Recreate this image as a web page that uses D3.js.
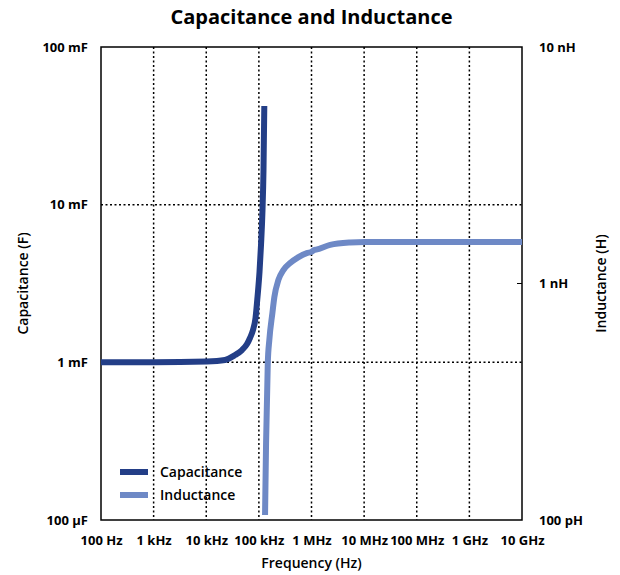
<!DOCTYPE html>
<html>
<head>
<meta charset="utf-8">
<script src="https://cdn.jsdelivr.net/npm/d3@7"></script>
<style>
  html, body { margin: 0; padding: 0; background: #fff; }
  svg text { fill: #000; }
</style>
</head>
<body>
<svg id="chart" width="620" height="575"></svg>
<script>
// ---- data ----
const freqTicks = [1e2, 1e3, 1e4, 1e5, 1e6, 1e7, 1e8, 1e9, 1e10];
const freqTickLabels = ["100 Hz", "1 kHz", "10 kHz", "100 kHz", "1 MHz", "10 MHz", "100 MHz", "1 GHz", "10 GHz"];
const capTicks = [1e-4, 1e-3, 1e-2, 1e-1];
const capTickLabels = ["100 µF", "1 mF", "10 mF", "100 mF"];
const indTicks = [1e-10, 1e-9, 1e-8];
const indTickLabels = ["100 pH", "1 nH", "10 nH"];

const capFreq  = [100, 1000, 10300, 22700, 35200, 47800, 59500, 67800, 77300, 86300, 94200, 102800, 109800, 117200, 122400, 126800];
const capValue = [1.0e-3, 1.0e-3, 1.012e-3, 1.035e-3, 1.112e-3, 1.197e-3, 1.307e-3, 1.427e-3, 1.604e-3, 1.91e-3, 2.6e-3, 3.74e-3, 5.55e-3, 9.25e-3, 16.6e-3, 42.2e-3];

const indFreq  = [131000, 137000, 147700, 158000, 180600, 197000, 235000, 292000, 392000, 556000, 814000, 1.0e6, 1.12e6, 1.22e6, 2.26e6, 5.42e6, 1.04e7, 1e8, 1e9, 1e10];
const indValue = [1.05e-10, 2.12e-10, 4.62e-10, 5.77e-10, 7.5e-10, 8.77e-10, 1.035e-9, 1.14e-9, 1.22e-9, 1.29e-9, 1.345e-9, 1.36e-9, 1.385e-9, 1.39e-9, 1.456e-9, 1.49e-9, 1.497e-9, 1.497e-9, 1.497e-9, 1.497e-9];

const seriesNames = ["Capacitance", "Inductance"];
const seriesColors = ["#233e87", "#6e89c6"];

// ---- layout ----
const L = 101, R = 522, T = 47, B = 520;
const svg = d3.select("#chart");
const font = "'Open Sans', sans-serif";

const x = d3.scaleLog().domain([1e2, 1e10]).range([L, R]);
const yC = d3.scaleLog().domain([1e-4, 1e-1]).range([B, T]);
const yL = d3.scaleLog().domain([1e-10, 1e-8]).range([B, T]);

// grid
const grid = svg.append("g");
grid.selectAll("line.v").data(freqTicks.slice(1, -1)).join("line")
  .attr("x1", d => x(d)).attr("x2", d => x(d)).attr("y1", T).attr("y2", B)
  .attr("stroke", "#000").attr("stroke-width", 1.5).attr("stroke-dasharray", "2,2.5");
grid.selectAll("line.h").data(capTicks.slice(1, -1)).join("line")
  .attr("x1", L).attr("x2", R).attr("y1", d => yC(d)).attr("y2", d => yC(d))
  .attr("stroke", "#000").attr("stroke-width", 1.5).attr("stroke-dasharray", "2,2.5");

// right axis inner tick
svg.selectAll("line.rt").data(indTicks.slice(1, -1)).join("line")
  .attr("x1", R - 5).attr("x2", R).attr("y1", d => yL(d)).attr("y2", d => yL(d))
  .attr("stroke", "#000").attr("stroke-width", 1);

// frame
svg.append("rect").attr("x", L).attr("y", T).attr("width", R - L).attr("height", B - T)
  .attr("fill", "none").attr("stroke", "#000").attr("stroke-width", 1.5);

// axes (labels only)
const axB = d3.axisBottom(x).tickValues(freqTicks).tickFormat((d, i) => freqTickLabels[i]).tickSize(0).tickPadding(16);
const gB = svg.append("g").attr("transform", `translate(0,${B})`).call(axB);
const axLft = d3.axisLeft(yC).tickValues(capTicks).tickFormat((d, i) => capTickLabels[i]).tickSize(0).tickPadding(13);
const gLf = svg.append("g").attr("transform", `translate(${L},0)`).call(axLft);
const axRt = d3.axisRight(yL).tickValues(indTicks).tickFormat((d, i) => indTickLabels[i]).tickSize(0).tickPadding(17);
const gRt = svg.append("g").attr("transform", `translate(${R},0)`).call(axRt);
[gB, gLf, gRt].forEach(g => {
  g.select(".domain").remove();
  g.selectAll("text").attr("font-family", font).attr("font-size", 13).attr("font-weight", 700).attr("fill", "#000");
});

// lines
const lineC = d3.line().x(d => x(d[0])).y(d => yC(d[1])).curve(d3.curveMonotoneX);
const lineL = d3.line().x(d => x(d[0])).y(d => yL(d[1])).curve(d3.curveMonotoneX);
const capData = capFreq.map((f, i) => [f, capValue[i]]);
const indData = indFreq.map((f, i) => [f, indValue[i]]);

svg.append("path").attr("d", lineL(indData)).attr("fill", "none")
  .attr("stroke", seriesColors[1]).attr("stroke-width", 6);
svg.append("path").attr("d", lineC(capData)).attr("fill", "none")
  .attr("stroke", seriesColors[0]).attr("stroke-width", 6);

// legend
const leg = svg.append("g");
seriesNames.forEach((name, i) => {
  const yy = 472 + i * 23;
  leg.append("line").attr("x1", 120).attr("x2", 148).attr("y1", yy).attr("y2", yy)
    .attr("stroke", seriesColors[i]).attr("stroke-width", 6);
  leg.append("text").attr("x", 160).attr("y", yy).attr("dy", "0.35em")
    .attr("font-family", font).attr("font-size", 14).attr("font-weight", 600).text(name);
});

// titles
svg.append("text").attr("x", (L + R) / 2).attr("y", 24).attr("text-anchor", "middle")
  .attr("font-family", font).attr("font-size", 20).attr("font-weight", 700).text("Capacitance and Inductance");
svg.append("text").attr("x", (L + R) / 2).attr("y", 563).attr("dy", "0.35em").attr("text-anchor", "middle")
  .attr("font-family", font).attr("font-size", 14).attr("font-weight", 600).text("Frequency (Hz)");
svg.append("text").attr("transform", `translate(23,${(T + B) / 2}) rotate(-90)`).attr("dy", "0.35em")
  .attr("text-anchor", "middle").attr("font-family", font).attr("font-size", 14).attr("font-weight", 600).text("Capacitance (F)");
svg.append("text").attr("transform", `translate(601,${(T + B) / 2}) rotate(-90)`).attr("dy", "0.35em")
  .attr("text-anchor", "middle").attr("font-family", font).attr("font-size", 14).attr("font-weight", 600).text("Inductance (H)");
</script>
</body>
</html>
